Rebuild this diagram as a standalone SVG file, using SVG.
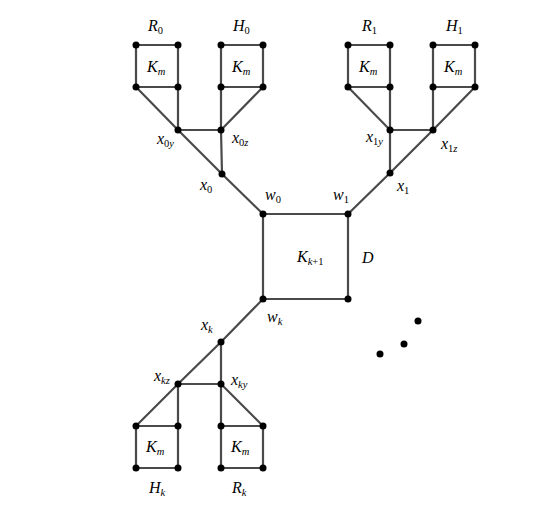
<svg xmlns="http://www.w3.org/2000/svg" width="545" height="505" viewBox="0 0 545 505">
<style>
.e{stroke:#4a4a4a;stroke-width:2.2;fill:none;stroke-linecap:round}
.v{fill:#000}
text{font-family:"Liberation Serif","DejaVu Serif",serif;font-size:16px;font-style:italic;fill:#000}
.s{font-size:10.5px}
.u{font-style:normal}
</style>
<rect width="545" height="505" fill="#fff"/>
<g id="connectors" class="e">
<path d="M136,45H178V87H136Z M136,87H178"/>
<path d="M221,45H263V87H221Z M221,87H263"/>
<path d="M348,45H390V87H348Z M348,87H390"/>
<path d="M433,45H475V87H433Z M433,87H475"/>
<path d="M136,426H178V468H136Z M136,468H178"/>
<path d="M221,426H263V468H221Z M221,468H263"/>
<path d="M263,214H348V299H263Z"/>
<path d="M136,87L178,130L222,174L263,214"/>
<path d="M178,87V130H221 M221,87L221,130L222,174 M263,87L221,130"/>
<path d="M348,87L390,130H433 M390,87V130V173 M433,87V130 M475,87L433,130L390,173L348,214"/>
<path d="M263,299L221,342L178,384L136,426 M221,342V384V426 M178,384H221 M178,384V426 M221,384L263,426"/>
</g>
<g id="K-R0"><circle class="v" cx="136" cy="45" r="3.5"/><circle class="v" cx="178" cy="45" r="3.5"/><circle class="v" cx="136" cy="87" r="3.5"/><circle class="v" cx="178" cy="87" r="3.5"/>
<text x="148" y="31">R<tspan class="s u" dy="3">0</tspan></text><text x="147" y="72">K<tspan class="s" dy="3">m</tspan></text></g>
<g id="K-H0"><circle class="v" cx="221" cy="45" r="3.5"/><circle class="v" cx="263" cy="45" r="3.5"/><circle class="v" cx="221" cy="87" r="3.5"/><circle class="v" cx="263" cy="87" r="3.5"/>
<text x="233" y="31">H<tspan class="s u" dy="3">0</tspan></text><text x="232" y="72">K<tspan class="s" dy="3">m</tspan></text></g>
<g id="K-R1"><circle class="v" cx="348" cy="45" r="3.5"/><circle class="v" cx="390" cy="45" r="3.5"/><circle class="v" cx="348" cy="87" r="3.5"/><circle class="v" cx="390" cy="87" r="3.5"/>
<text x="362" y="31">R<tspan class="s u" dy="3">1</tspan></text><text x="359" y="72">K<tspan class="s" dy="3">m</tspan></text></g>
<g id="K-H1"><circle class="v" cx="433" cy="45" r="3.5"/><circle class="v" cx="475" cy="45" r="3.5"/><circle class="v" cx="433" cy="87" r="3.5"/><circle class="v" cx="475" cy="87" r="3.5"/>
<text x="446" y="31">H<tspan class="s u" dy="3">1</tspan></text><text x="444" y="72">K<tspan class="s" dy="3">m</tspan></text></g>
<g id="K-Hk"><circle class="v" cx="136" cy="426" r="3.5"/><circle class="v" cx="178" cy="426" r="3.5"/><circle class="v" cx="136" cy="468" r="3.5"/><circle class="v" cx="178" cy="468" r="3.5"/>
<text x="146" y="452">K<tspan class="s" dy="3">m</tspan></text><text x="149" y="493">H<tspan class="s" dy="3">k</tspan></text></g>
<g id="K-Rk"><circle class="v" cx="221" cy="426" r="3.5"/><circle class="v" cx="263" cy="426" r="3.5"/><circle class="v" cx="221" cy="468" r="3.5"/><circle class="v" cx="263" cy="468" r="3.5"/>
<text x="231" y="452">K<tspan class="s" dy="3">m</tspan></text><text x="232" y="493">R<tspan class="s" dy="3">k</tspan></text></g>
<g id="x0y"><circle class="v" cx="178" cy="130" r="3.5"/><text x="157" y="144">x<tspan class="s" dy="3"><tspan class="u">0</tspan>y</tspan></text></g>
<g id="x0z"><circle class="v" cx="221" cy="130" r="3.5"/><text x="232" y="143">x<tspan class="s" dy="3"><tspan class="u">0</tspan>z</tspan></text></g>
<g id="x0"><circle class="v" cx="222" cy="174" r="3.5"/><text x="200" y="190">x<tspan class="s u" dy="3">0</tspan></text></g>
<g id="x1y"><circle class="v" cx="390" cy="130" r="3.5"/><text x="366" y="142">x<tspan class="s" dy="3"><tspan class="u">1</tspan>y</tspan></text></g>
<g id="x1z"><circle class="v" cx="433" cy="130" r="3.5"/><text x="441" y="149">x<tspan class="s" dy="3"><tspan class="u">1</tspan>z</tspan></text></g>
<g id="x1"><circle class="v" cx="390" cy="173" r="3.5"/><text x="397" y="191">x<tspan class="s u" dy="3">1</tspan></text></g>
<g id="D"><circle class="v" cx="348" cy="299" r="3.5"/><text x="297" y="262">K<tspan class="s" dy="3">k<tspan class="u">+1</tspan></tspan></text><text x="362" y="263">D</text></g>
<g id="w0"><circle class="v" cx="263" cy="214" r="3.5"/><text x="265" y="200">w<tspan class="s u" dy="3">0</tspan></text></g>
<g id="w1"><circle class="v" cx="348" cy="214" r="3.5"/><text x="333" y="200">w<tspan class="s u" dy="3">1</tspan></text></g>
<g id="wk"><circle class="v" cx="263" cy="299" r="3.5"/><text x="267" y="322">w<tspan class="s" dy="3">k</tspan></text></g>
<g id="xk"><circle class="v" cx="221" cy="342" r="3.5"/><text x="201" y="330">x<tspan class="s" dy="3">k</tspan></text></g>
<g id="xkz"><circle class="v" cx="178" cy="384" r="3.5"/><text x="154" y="381">x<tspan class="s" dy="3">kz</tspan></text></g>
<g id="xky"><circle class="v" cx="221" cy="384" r="3.5"/><text x="231" y="385">x<tspan class="s" dy="3">ky</tspan></text></g>
<g id="dots"><circle class="v" cx="418" cy="321" r="3.5"/><circle class="v" cx="404" cy="344" r="3.5"/><circle class="v" cx="380" cy="354" r="3.5"/></g>
</svg>
